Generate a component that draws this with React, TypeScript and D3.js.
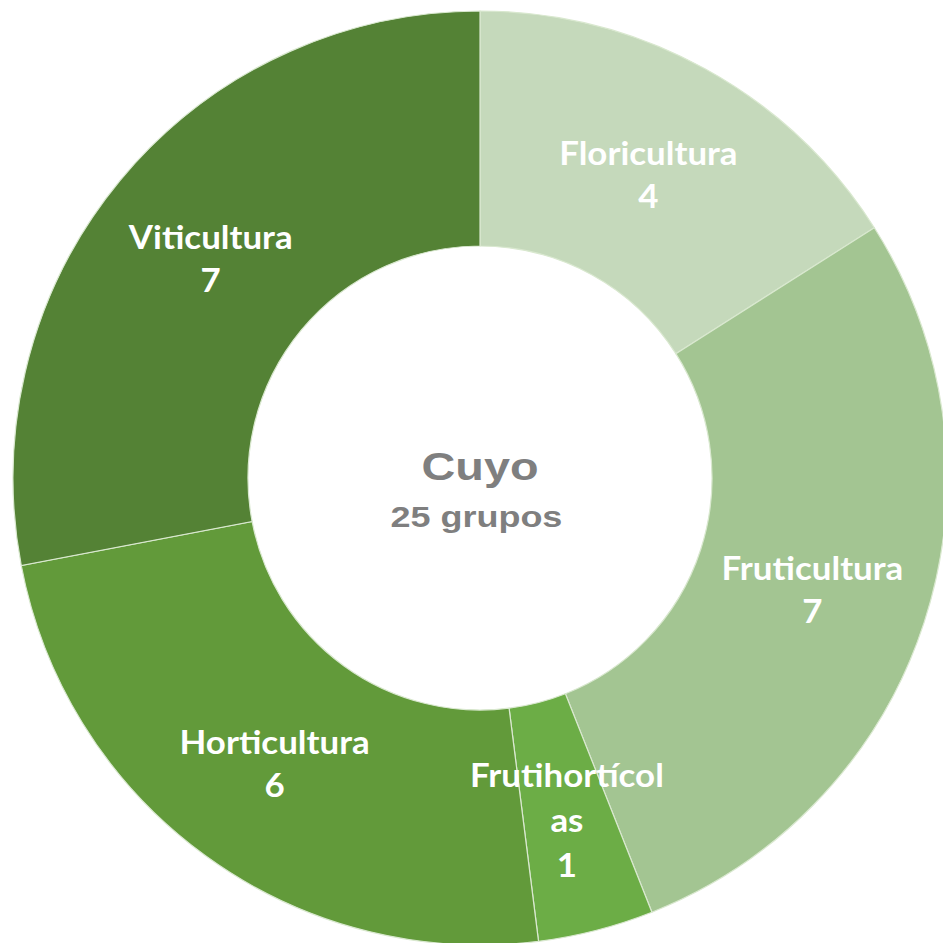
import React, { useEffect, useRef } from 'react';
import * as d3 from 'd3';

const categories = ['Floricultura', 'Fruticultura', 'Frutihortícolas', 'Horticultura', 'Viticultura'];
const labelLines = [['Floricultura'], ['Fruticultura'], ['Frutihortícol', 'as'], ['Horticultura'], ['Viticultura']];
const values = [4, 7, 1, 6, 7];
const colors = ['#c5d9bb', '#a3c592', '#6cad46', '#629a3a', '#548235'];
const centerTitle = 'Cuyo';
const centerSubtitle = '25 grupos';

const App = () => {
  const svgRef = useRef<SVGSVGElement>(null);

  useEffect(() => {
    const width = 943;
    const height = 943;
    const cx = 480;
    const cy = 478;
    const outerR = 467;
    const innerR = 232;

    const svg = d3.select(svgRef.current);
    svg.selectAll('*').remove();
    svg.attr('width', width).attr('height', height);

    const data = categories.map((c, i) => ({ name: c, value: values[i], lines: labelLines[i], color: colors[i] }));

    const pie = d3.pie<any>().value(d => d.value).sort(null);
    const arc = d3.arc<any>().innerRadius(innerR).outerRadius(outerR);

    const g = svg.append('g').attr('transform', `translate(${cx},${cy})`);

    const arcs = pie(data);

    g.selectAll('path')
      .data(arcs)
      .join('path')
      .attr('d', arc)
      .attr('fill', d => d.data.color)
      .attr('stroke', '#d9e8cf')
      .attr('stroke-width', 1.2);

    // slice labels, white bold (source text looks a bit stretched sideways)
    arcs.forEach(d => {
      const [x, y] = arc.centroid(d);
      const lines = [...d.data.lines, String(d.data.value)];
      const lh = lines.length > 2 ? 45 : 43;
      const top = y + 4 - ((lines.length - 1) * lh) / 2;
      const t = g.append('g')
        .attr('transform', `translate(${x},0) scale(1.09,1)`)
        .append('text')
        .attr('text-anchor', 'middle')
        .attr('fill', '#ffffff')
        .attr('font-family', 'Lato, "Open Sans", sans-serif')
        .attr('font-weight', 'bold')
        .attr('font-size', 32);
      lines.forEach((ln, i) => {
        t.append('tspan')
          .attr('x', 0)
          .attr('y', top + i * lh)
          .attr('dy', '0.35em')
          .text(ln);
      });
    });

    // center text
    const center = g.append('g').attr('transform', 'scale(1.2,1)');
    center.append('text')
      .attr('x', 0)
      .attr('y', 2)
      .attr('text-anchor', 'middle')
      .attr('fill', '#7f7f7f')
      .attr('font-family', '"Liberation Sans", Arial, sans-serif')
      .attr('font-weight', 'bold')
      .attr('font-size', 39)
      .text(centerTitle);

    center.append('text')
      .attr('x', -3)
      .attr('y', 49)
      .attr('text-anchor', 'middle')
      .attr('fill', '#7f7f7f')
      .attr('font-family', '"Liberation Sans", Arial, sans-serif')
      .attr('font-weight', 'bold')
      .attr('font-size', 30)
      .text(centerSubtitle);
  }, []);

  return (
    <svg ref={svgRef} style={{ position: 'absolute', left: 0, top: 0, background: '#ffffff' }}></svg>
  );
};

export default App;
